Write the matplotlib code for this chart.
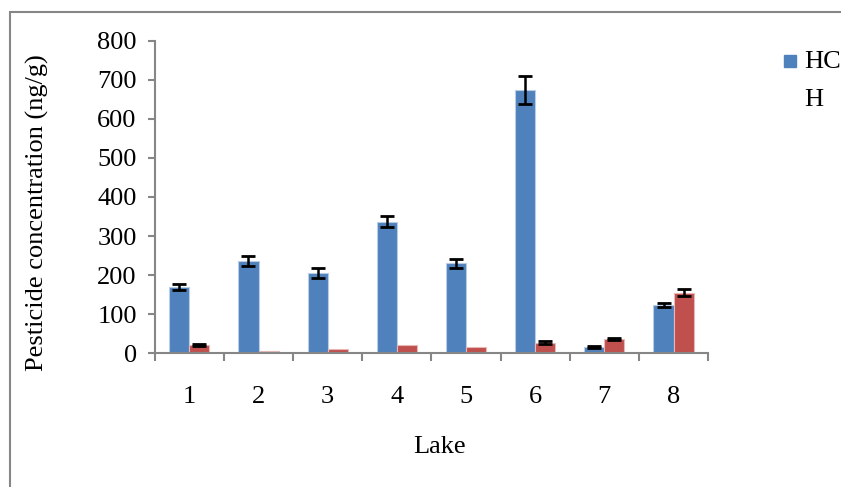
import matplotlib.pyplot as plt
import numpy as np
from matplotlib.patches import Rectangle

lakes = ["1", "2", "3", "4", "5", "6", "7", "8"]
hch = [169, 236, 205, 337, 230, 674, 16, 123]
hch_err = [8, 12, 12, 14, 12, 35, 3, 5]
other = [21, 6, 10, 20, 15, 26, 36, 155]
other_err = [3, np.nan, np.nan, np.nan, np.nan, 4, 3, 8]

BLUE = "#4F81BD"
RED = "#C0504D"
GREY = "#868686"
FS = 19

plt.rcParams["font.family"] = ["Liberation Serif", "DejaVu Serif"]

fig = plt.figure(figsize=(8.41, 4.87), dpi=100)
ax = fig.add_axes([0.184, 0.275, 0.658, 0.641])

# outer chart-area frame, cut off at right and bottom
fig.patches.append(Rectangle((10 / 841, -0.5), 2, 1.5 - 12 / 487,
                             transform=fig.transFigure, fill=False,
                             edgecolor=GREY, linewidth=1.5))

x = np.arange(len(lakes))
w = 0.29
ekw = {"elinewidth": 1.8, "ecolor": "black", "capthick": 2}
ax.bar(x - w / 2, hch, w, yerr=hch_err, capsize=5, color=BLUE,
       edgecolor="#B9CDE5", linewidth=0.8, error_kw=ekw, label="HCH")
ax.bar(x + w / 2, other, w, yerr=other_err, capsize=5, color=RED,
       edgecolor="#E6B9B8", linewidth=0.8, error_kw=ekw)

ax.set_xlim(-0.5, len(lakes) - 0.5)
ax.set_ylim(0, 800)
ax.set_yticks(range(0, 801, 100))
ax.set_xticks(x)
ax.set_xticklabels(lakes)
ax.set_xticks(np.arange(-0.5, len(lakes)), minor=True)
ax.tick_params(axis="x", which="major", length=0, pad=24, labelsize=FS)
ax.tick_params(axis="x", which="minor", length=6, width=1.5, color=GREY)
ax.tick_params(axis="y", length=5, width=1.5, color=GREY, labelsize=FS, pad=8)

for s in ["top", "right"]:
    ax.spines[s].set_visible(False)
for s in ["left", "bottom"]:
    ax.spines[s].set_color(GREY)
    ax.spines[s].set_linewidth(1.5)

ax.set_xlabel("Lake", fontsize=FS, va="center")
ax.xaxis.set_label_coords((440 - 155) / 553, -(447 - 353) / 312)
ax.set_ylabel("Pesticide concentration (ng/g)", fontsize=FS, va="center")
ax.yaxis.set_label_coords(-(155 - 38) / 553, (353 - 213) / 312)

# legend (clipped at right edge as in original)
fig.patches.append(Rectangle((784 / 841, 1 - 67 / 487), 12 / 841, 12 / 487,
                             transform=fig.transFigure, color=BLUE))
fig.text(804 / 841, 1 - 62 / 487, "HC", fontsize=FS, va="center", ha="left")
fig.text(804 / 841, 1 - 100 / 487, "H", fontsize=FS, va="center", ha="left")

plt.savefig("out.png", dpi=100)
plt.close()
